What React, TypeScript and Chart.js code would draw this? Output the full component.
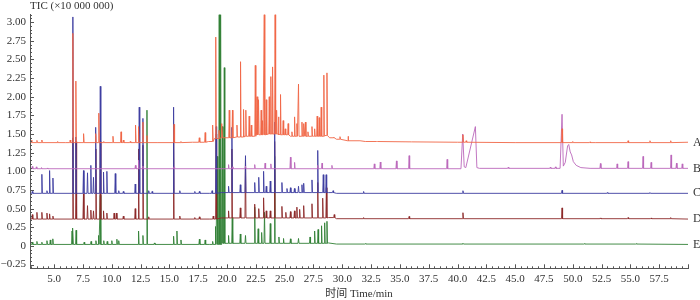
import React, { useEffect, useRef } from 'react';
import { Chart, registerables } from 'chart.js';

Chart.register(...registerables);

// ---------- data ----------
const seriesNames = ['A', 'B', 'C', 'D', 'E'];
const seriesColors = ['#f06646', '#bb68bb', '#3d3da0', '#8c2828', '#318035'];
const labelLevels = [1.385, 1.04, 0.705, 0.36, 0.02];

const xTickValues = [5, 7.5, 10, 12.5, 15, 17.5, 20, 22.5, 25, 27.5, 30, 32.5, 35, 37.5, 40, 42.5, 45, 47.5, 50, 52.5, 55, 57.5];
const yTickValues = [-0.25, 0, 0.25, 0.5, 0.75, 1, 1.25, 1.5, 1.75, 2, 2.25, 2.5, 2.75, 3];

type P = [number, number];

const baseA: P[] = [[2.95, 1.385], [6.0, 1.385], [14, 1.385], [17.0, 1.39], [18.4, 1.4], [18.9, 1.44], [19.5, 1.45], [20.5, 1.46], [21.5, 1.47], [22.5, 1.49], [23.5, 1.5], [24.5, 1.49], [25.5, 1.47], [26.5, 1.47], [27.5, 1.47], [28.5, 1.48], [28.9, 1.45], [29.5, 1.43], [30.5, 1.41], [32, 1.4], [36, 1.395], [40, 1.39], [45, 1.385], [52, 1.385], [60, 1.39]];
const peaksA: P[] = [[3.05, 1.42], [3.5, 1.415], [3.93, 1.42], [5.3, 1.4], [6.39, 1.42], [6.62, 2.85], [6.88, 2.21], [7.55, 1.505], [8.6, 1.505], [8.87, 1.78], [9.3, 1.4], [10.1, 1.47], [10.8, 1.53], [11.0, 1.42], [11.6, 1.4], [12.06, 1.62], [12.32, 1.6], [12.7, 1.66], [13.05, 1.48], [15.4, 1.63], [16.0, 1.4], [17.59, 1.45], [18.1, 1.52], [18.75, 1.62], [19.02, 2.8], [19.3, 1.55], [19.56, 1.64], [20.19, 1.82], [20.47, 1.82], [20.86, 1.62], [21.17, 2.47], [21.43, 1.83], [21.63, 1.82], [21.92, 1.74], [22.1, 1.62], [22.45, 2.42], [22.6, 2.0], [22.73, 1.96], [22.96, 1.82], [23.08, 1.68], [23.23, 3.2], [23.4, 1.96], [23.66, 2.0], [23.8, 2.27], [23.95, 2.4], [24.17, 3.2], [24.3, 1.82], [24.47, 1.73], [24.64, 2.03], [24.87, 1.68], [25.05, 1.57], [25.3, 1.64], [25.63, 1.53], [25.86, 1.73], [26.06, 1.64], [26.2, 2.17], [26.5, 1.66], [26.65, 1.64], [26.8, 1.66], [27.02, 1.53], [27.37, 1.6], [27.6, 1.57], [27.82, 1.74], [28.0, 1.72], [28.17, 1.86], [28.4, 2.29], [28.67, 2.32], [29.25, 1.46], [29.8, 1.465], [30.5, 1.47], [31.5, 1.41], [33.0, 1.4], [40.47, 1.49], [40.75, 1.41], [49.07, 1.57], [50.0, 1.4], [51.5, 1.395], [54.8, 1.41], [56.7, 1.41], [58.5, 1.41]];

const baseB: P[] = [[2.95, 1.035], [40.3, 1.035], [40.45, 1.5], [40.58, 1.06], [40.72, 1.05], [41.55, 1.6], [41.68, 1.05], [41.9, 1.04], [48.9, 1.04], [49.07, 1.765], [49.18, 1.07], [49.35, 1.12], [49.55, 1.34], [49.65, 1.36], [49.78, 1.26], [49.9, 1.22], [50.05, 1.13], [50.3, 1.08], [50.7, 1.05], [51.5, 1.04], [60, 1.04]];
const peaksB: P[] = [[3.1, 1.065], [3.45, 1.06], [3.9, 1.05], [4.4, 1.045], [12.05, 1.08], [12.32, 1.15], [12.7, 1.07], [15.4, 1.06], [20.13, 1.09], [20.47, 1.06], [21.6, 1.07], [22.4, 1.09], [23.3, 1.11], [23.8, 1.1], [25.5, 1.19], [25.86, 1.12], [27.87, 1.08], [28.24, 1.11], [29.1, 1.08], [32.78, 1.1], [33.3, 1.125], [34.7, 1.14], [35.8, 1.21], [39.1, 1.16], [44.4, 1.055], [48.05, 1.055], [48.5, 1.06], [52.4, 1.105], [53.85, 1.1], [54.8, 1.13], [56.1, 1.2], [56.8, 1.12], [58.53, 1.22], [59.0, 1.11], [59.5, 1.1]];

const baseC: P[] = [[2.95, 0.705], [18.5, 0.705], [19.5, 0.715], [28.8, 0.715], [29.5, 0.705], [60, 0.705]];
const peaksC: P[] = [[3.1, 0.73], [3.93, 0.96], [4.37, 0.74], [4.6, 1.01], [4.89, 0.91], [6.62, 3.07], [6.88, 1.46], [7.54, 1.01], [7.89, 0.98], [8.18, 1.08], [8.41, 0.92], [8.6, 1.59], [9.0, 2.14], [9.28, 0.99], [9.57, 1.0], [10.3, 0.97], [10.6, 0.74], [11.0, 0.73], [12.03, 0.83], [12.38, 1.86], [12.7, 1.71], [13.2, 0.74], [13.5, 0.73], [15.36, 1.86], [15.9, 0.74], [17.2, 0.73], [17.6, 0.73], [18.7, 0.74], [19.05, 1.6], [20.13, 0.8], [20.42, 1.59], [21.15, 0.82], [21.6, 1.21], [22.4, 0.85], [22.75, 0.92], [23.17, 1.0], [23.4, 0.8], [23.75, 0.87], [24.13, 1.66], [24.76, 0.85], [25.2, 0.77], [25.5, 0.78], [25.85, 0.77], [26.2, 0.8], [26.5, 0.82], [26.65, 0.84], [27.37, 0.885], [27.87, 1.28], [28.35, 0.955], [28.6, 0.955], [29.2, 0.74], [31.85, 0.73], [40.47, 0.74], [49.07, 0.745], [53.0, 0.715], [56.7, 0.715]];

const baseD: P[] = [[2.95, 0.36], [18.5, 0.36], [19.5, 0.375], [28.8, 0.38], [29.5, 0.365], [60, 0.36]];
const peaksD: P[] = [[3.1, 0.42], [3.5, 0.45], [3.93, 0.45], [4.37, 0.44], [4.6, 0.43], [4.89, 0.4], [6.62, 1.45], [6.9, 1.4], [7.54, 0.7], [7.89, 0.54], [8.18, 0.48], [8.41, 0.47], [8.62, 1.3], [9.0, 1.4], [9.28, 0.47], [9.57, 0.44], [10.2, 0.44], [10.4, 0.44], [11.0, 0.4], [12.03, 0.5], [12.32, 1.3], [12.7, 1.35], [13.2, 0.39], [15.36, 1.45], [15.9, 0.4], [17.2, 0.38], [17.6, 0.39], [18.8, 0.4], [19.05, 1.5], [20.13, 0.47], [20.42, 1.3], [21.15, 0.51], [21.6, 1.15], [22.4, 0.56], [22.75, 0.5], [23.17, 0.645], [23.4, 0.47], [23.75, 0.47], [24.13, 1.4], [24.76, 0.53], [25.1, 0.45], [25.5, 0.46], [25.85, 0.47], [26.06, 0.52], [26.3, 0.49], [26.65, 0.54], [27.37, 0.565], [27.87, 0.85], [28.3, 0.64], [28.62, 0.78], [29.3, 0.42], [31.85, 0.38], [35.8, 0.395], [40.47, 0.445], [49.07, 0.51], [52.4, 0.375], [54.8, 0.38], [56.8, 0.375], [58.5, 0.38]];

const baseE: P[] = [[2.95, 0.02], [18.5, 0.02], [19.5, 0.035], [28.8, 0.04], [29.5, 0.025], [60, 0.02]];
const peaksE: P[] = [[3.1, 0.05], [3.5, 0.06], [3.93, 0.05], [4.37, 0.07], [4.66, 0.08], [4.88, 0.095], [6.55, 0.2], [6.62, 0.24], [6.9, 0.21], [7.6, 0.05], [8.2, 0.06], [8.62, 0.07], [8.85, 0.14], [9.0, 0.68], [9.3, 0.07], [9.6, 0.06], [10.0, 0.07], [10.44, 0.09], [10.6, 0.07], [12.32, 0.2], [12.7, 0.14], [13.05, 1.82], [13.7, 0.04], [15.36, 0.13], [15.65, 0.2], [16.0, 0.08], [17.6, 0.09], [18.1, 0.08], [18.75, 0.06], [19.0, 0.26], [19.15, 1.2], [19.32, 3.2], [19.44, 3.2], [19.6, 1.6], [19.76, 2.39], [20.13, 0.14], [20.45, 0.38], [21.15, 0.16], [21.6, 0.14], [22.4, 0.52], [22.7, 0.23], [23.0, 0.18], [23.25, 0.45], [23.75, 0.3], [24.13, 1.2], [24.5, 0.12], [24.9, 0.1], [25.5, 0.095], [26.2, 0.1], [27.2, 0.12], [27.6, 0.2], [27.9, 0.22], [28.2, 0.27], [28.47, 0.31], [28.67, 0.33], [32.0, 0.03], [40.47, 0.035], [51.0, 0.03], [55.5, 0.03]];

const bases = [baseA, baseB, baseC, baseD, baseE];
const peaks = [peaksA, peaksB, peaksC, peaksD, peaksE];

const PEAK_HALF_WIDTH = 0.045;

function floorBefore(base: P[], t: number): number {
  let v = base[0][1];
  for (const [bt, bv] of base) {
    if (bt <= t) v = bv;
    else break;
  }
  return v;
}

function buildTrace(base: P[], pk: P[]) {
  const pts: { x: number; y: number }[] = base.map(([x, y]) => ({ x, y }));
  for (const [t, h] of pk) {
    const f = floorBefore(base, t);
    pts.push({ x: t - PEAK_HALF_WIDTH, y: f }, { x: t, y: h }, { x: t + PEAK_HALF_WIDTH, y: f });
  }
  pts.sort((a, b) => a.x - b.x);
  return pts;
}

const SERIF = "'Liberation Serif', 'Times New Roman', serif";
const TITLE_FONT = "'Liberation Serif', 'Noto Sans CJK SC', serif";

const decorPlugin = {
  id: 'decor',
  afterDraw(chart: any) {
    const { ctx, chartArea: a, scales } = chart;
    const x = scales.x;
    const y = scales.y;
    ctx.save();
    ctx.strokeStyle = '#555';
    ctx.lineWidth = 1;
    ctx.beginPath();
    for (let i = 6; i <= 120; i++) {
      const px = Math.round(x.getPixelForValue(i / 2)) + 0.5;
      if (px < a.left || px > a.right + 0.6) continue;
      const len = i % 5 === 0 ? 4 : 2;
      ctx.moveTo(px, a.bottom);
      ctx.lineTo(px, a.bottom - len);
    }
    for (let i = -6; i <= 62; i++) {
      const py = Math.round(y.getPixelForValue(i * 0.05)) + 0.5;
      if (py < a.top - 0.6 || py > a.bottom) continue;
      const len = i % 5 === 0 ? 4 : 2;
      ctx.moveTo(a.left, py);
      ctx.lineTo(a.left + len, py);
    }
    ctx.stroke();

    ctx.fillStyle = '#333';
    ctx.textBaseline = 'middle';
    ctx.font = `11px ${TITLE_FONT}`;
    ctx.textAlign = 'left';
    ctx.fillText('TIC (×10 000 000)', a.left, 6.5);
    ctx.textAlign = 'center';
    ctx.fillText('时间 Time/min', (a.left + a.right) / 2, 294);
    ctx.font = `12px ${SERIF}`;
    ctx.textAlign = 'left';
    seriesNames.forEach((n, i) => {
      ctx.fillText(n, a.right + 5, y.getPixelForValue(labelLevels[i]));
    });
    ctx.restore();
  },
};

export default function App() {
  const ref = useRef<HTMLCanvasElement>(null);
  useEffect(() => {
    document.body.style.margin = '0';
    const datasets = seriesNames.map((n, i) => ({
      label: n,
      data: buildTrace(bases[i], peaks[i]),
      borderColor: seriesColors[i],
      borderWidth: 0.9,
      borderJoinStyle: 'bevel',
      pointRadius: 0,
      tension: 0,
      fill: false,
    }));
    const chart = new Chart(ref.current as HTMLCanvasElement, {
      type: 'line',
      data: { datasets },
      options: {
        animation: false,
        responsive: false,
        events: [],
        parsing: false,
        layout: { padding: { top: 14.7, right: 12, left: 0, bottom: 0 } },
        plugins: { legend: { display: false }, tooltip: { enabled: false } },
        scales: {
          x: {
            type: 'linear',
            min: 2.9,
            max: 60,
            afterFit: (s: any) => { s.height = 31.7; },
            afterBuildTicks: (s: any) => { s.ticks = xTickValues.map((value) => ({ value })); },
            grid: { display: false, drawTicks: false },
            border: { display: true, color: '#555', width: 1 },
            ticks: {
              padding: 4,
              maxRotation: 0,
              autoSkip: false,
              color: '#333',
              font: { family: SERIF, size: 11 },
              callback: (v: any) => Number(v).toFixed(1),
            },
          },
          y: {
            type: 'linear',
            min: -0.3,
            max: 3.1,
            afterFit: (s: any) => { s.width = 30; },
            afterBuildTicks: (s: any) => { s.ticks = yTickValues.map((value) => ({ value })); },
            grid: { display: false, drawTicks: false },
            border: { display: true, color: '#555', width: 1 },
            ticks: {
              padding: 4,
              autoSkip: false,
              color: '#333',
              font: { family: SERIF, size: 11 },
              callback: (v: any) => {
                const n = Number(v);
                if (Math.abs(n) < 1e-9) return '0';
                return n < 0 ? '\u2212' + Math.abs(n).toFixed(2) : n.toFixed(2);
              },
            },
          },
        },
      },
      plugins: [decorPlugin],
    } as any);
    return () => chart.destroy();
  }, []);
  return (
    <div style={{ position: 'absolute', left: 0, top: 0, width: 700, height: 300 }}>
      <canvas ref={ref} width={700} height={300} style={{ width: 700, height: 300, display: 'block' }} />
    </div>
  );
}
